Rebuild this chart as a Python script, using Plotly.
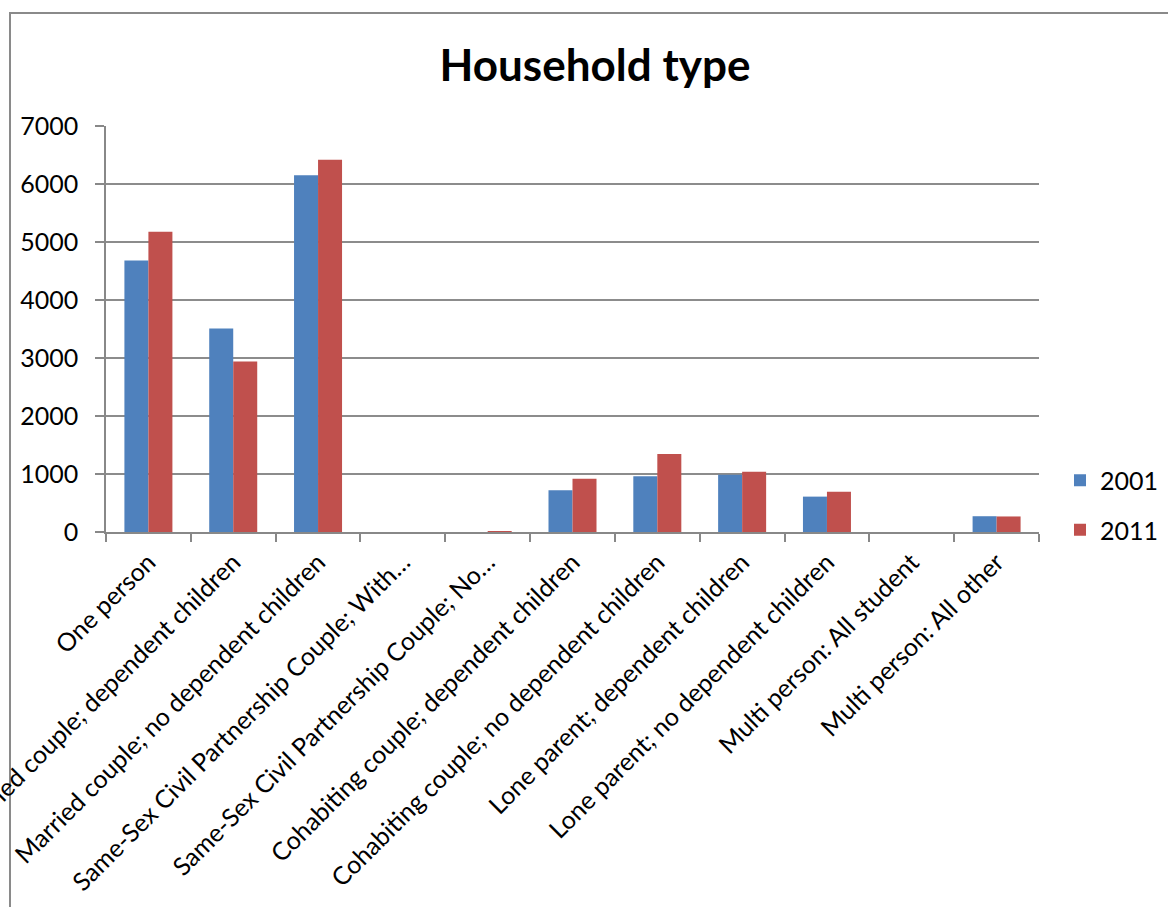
import plotly.graph_objects as go

categories = [
    "One person",
    "Married couple; dependent children",
    "Married couple; no dependent children",
    "Same-Sex Civil Partnership Couple; With…",
    "Same-Sex Civil Partnership Couple; No…",
    "Cohabiting couple; dependent children",
    "Cohabiting couple; no dependent children",
    "Lone parent; dependent children",
    "Lone parent; no dependent children",
    "Multi person: All student",
    "Multi person: All other",
]
values_2001 = [4680, 3510, 6150, 0, 0, 720, 960, 985, 610, 0, 272]
values_2011 = [5175, 2940, 6420, 0, 14, 920, 1345, 1040, 695, 0, 268]
series_names = ["2001", "2011"]
y_ticks = [0, 1000, 2000, 3000, 4000, 5000, 6000, 7000]

W, H = 1168, 907
L, R, T, B = 106, 1039, 126, 532
pw, ph = R - L, B - T

fig = go.Figure()
fig.add_trace(go.Bar(name=series_names[0], x=categories, y=values_2001, legendgroup="a",
                     marker=dict(color="#4F81BD", line=dict(width=0))))
fig.add_trace(go.Bar(name=series_names[1], x=categories, y=values_2011, legendgroup="b",
                     marker=dict(color="#C0504D", line=dict(width=0))))

font_family = "Lato, 'Open Sans', sans-serif"

fig.update_layout(
    width=W, height=H,
    margin=dict(l=L, r=W - R, t=T, b=H - B, pad=0, autoexpand=False),
    paper_bgcolor="white", plot_bgcolor="white",
    barmode="group", bargap=0.434, bargroupgap=0,
    title=dict(text="<b>Household type</b>", x=595 / W, xanchor="center",
               y=1 - 66 / H, yanchor="middle", yref="container",
               font=dict(family=font_family, size=44, color="black")),
    font=dict(family=font_family, size=24, color="black"),
    legend=dict(x=(1060 - L) / pw, xanchor="left", y=(B - 505) / ph, yanchor="middle",
                font=dict(size=25, color="black"), itemwidth=30,
                tracegroupgap=14, bgcolor="rgba(0,0,0,0)"),
    showlegend=True,
)
fig.update_xaxes(
    type="category", tickangle=-45, ticks="outside", tickson="boundaries",
    ticklen=8, tickcolor="#888888", tickwidth=1.5, ticklabelstandoff=4,
    showline=True, linecolor="#888888", linewidth=1.5,
    showgrid=False, tickfont=dict(size=25, color="black"),
    automargin=False,
)
fig.update_yaxes(
    range=[0, 7000], tickvals=y_ticks, ticks="outside", ticklen=9,
    tickcolor="#888888", tickwidth=1.5, ticklabelstandoff=12,
    showline=True, linecolor="#888888", linewidth=1.5,
    showgrid=True, gridcolor="#8c8c8c", gridwidth=1.5,
    tickfont=dict(size=25, color="black"), zeroline=False,
    automargin=False,
)
# outer chart frame (cropped by page on right and bottom)
fig.add_shape(type="rect", xref="paper", yref="paper",
              x0=(10 - L) / pw, x1=(W + 20 - L) / pw,
              y0=(B - (H + 20)) / ph, y1=(B - 13) / ph,
              line=dict(color="#8a8a8a", width=2), fillcolor="rgba(0,0,0,0)",
              layer="below")

fig.write_html("out.html", config={"displayModeBar": False},
               post_script="document.body.style.margin='0';")
